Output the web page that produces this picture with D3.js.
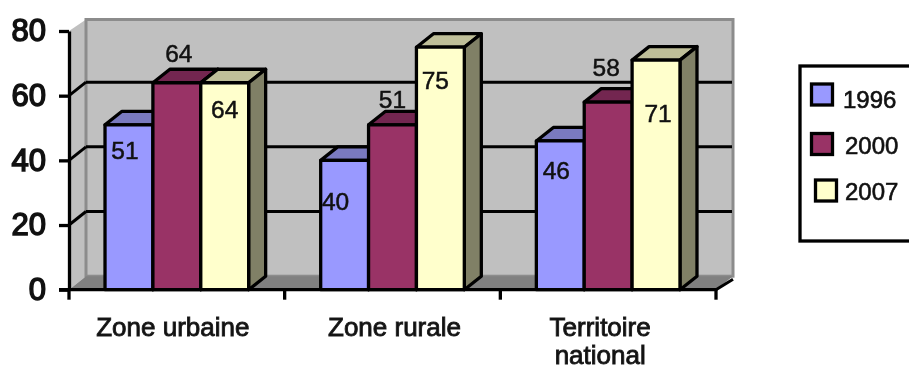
<!DOCTYPE html>
<html>
<head>
<meta charset="utf-8">
<script src="https://cdn.jsdelivr.net/npm/d3@7"></script>
<style>
html,body{margin:0;padding:0;background:#fff;overflow:hidden}
svg{display:block;filter:blur(0.55px)}
text{font-family:"Liberation Sans",Arial,sans-serif;fill:#111}
</style>
</head>
<body>
<svg id="c" width="909" height="369"></svg>
<script>
const categories = [["Zone urbaine"], ["Zone rurale"], ["Territoire", "national"]];
const years = ["1996", "2000", "2007"];
const values1996 = [51, 40, 46];
const values2000 = [64, 51, 58];
const values2007 = [64, 75, 71];
const yTicks = [0, 20, 40, 60, 80];

const seriesValues = [values1996, values2000, values2007];
const frontColors = ["#9999FF", "#993366", "#FFFFCC"];
const topColors = ["#7A7ABF", "#732650", "#BFBF99"];
const sideColors = ["#666699", "#66223F", "#808066"];

// hand-placed data label nudges, [series][category] = [dx, dy] from bar top centre
const labelNudge = [
  [[-4, 25], [-9, 41], [-4, 29]],
  [[2, -30], [0, -26], [-2, -35]],
  [[0, 26], [-5, 33], [2, 53]]
];
const categoryNudge = [-4, 2, -8];

const svg = d3.select("#c");
const depthX = 17, depthY = 13.5;
const y = d3.scaleLinear().domain([0, 80]).range([289.7, 31]);
const x = d3.scaleBand().domain(d3.range(categories.length)).range([69, 716]).paddingInner(0.334).paddingOuter(0.167);
const xs = d3.scaleBand().domain(d3.range(years.length)).range([0, x.bandwidth()]);
const left = x.range()[0], right = x.range()[1];
const poly = d3.line();

// walls
const backTop = y(80) - 11.5, backBottom = y(0) - depthY;
svg.append("path").attr("fill", "#C0C0C0")
  .attr("d", poly([[left, y(80)], [left + depthX, backTop], [left + depthX, backBottom], [left, y(0)]]) + "Z");
svg.append("rect").attr("x", left + depthX).attr("y", backTop)
  .attr("width", right - left).attr("height", backBottom - backTop)
  .attr("fill", "#C0C0C0").attr("stroke", "#8c8c8c").attr("stroke-width", 3);
svg.append("path").attr("fill", "#808080")
  .attr("d", poly([[left, y(0)], [left + depthX, backBottom], [right + depthX, backBottom], [right, y(0)]]) + "Z");

// gridlines and wall connectors
const grid = svg.append("g").attr("fill", "none").attr("stroke", "#000").attr("stroke-width", 3);
yTicks.filter(t => t > 0 && t < 80).forEach(t => {
  grid.append("path").attr("d", poly([[left + depthX, y(t) - depthY], [right + depthX - 1, y(t) - depthY]]));
  grid.append("path").attr("d", poly([[left, y(t)], [left + depthX, y(t) - depthY]]));
});
grid.append("path").attr("d", poly([[right, y(0)], [right + depthX, backBottom + 3]]));

// bars
categories.forEach((c, ci) => {
  years.forEach((yr, si) => {
    const v = seriesValues[si][ci];
    const x0 = x(ci) + xs(si), x1 = x0 + xs.bandwidth(), t = y(v), b = y(0);
    const g = svg.append("g").attr("stroke", "#000").attr("stroke-width", 3.3).attr("stroke-linejoin", "round");
    g.append("path").attr("fill", topColors[si])
      .attr("d", poly([[x0, t], [x0 + depthX, t - depthY], [x1 + depthX, t - depthY], [x1, t]]) + "Z");
    g.append("path").attr("fill", sideColors[si])
      .attr("d", poly([[x1, t], [x1 + depthX, t - depthY], [x1 + depthX, b - depthY], [x1, b]]) + "Z");
    g.append("path").attr("fill", frontColors[si])
      .attr("d", poly([[x0, t], [x1, t], [x1, b], [x0, b]]) + "Z");
  });
});

// value axis
const yAxis = svg.append("g").attr("transform", `translate(${left},0)`)
  .call(d3.axisLeft(y).tickValues(yTicks).tickSize(10).tickSizeOuter(0).tickPadding(13).tickFormat(d3.format("d")));
yAxis.selectAll("path,line").attr("stroke", "#000").attr("stroke-width", 3.3);
yAxis.selectAll("text").attr("font-size", 31).attr("font-family", '"Liberation Sans",Arial,sans-serif')
  .attr("fill", "#111").attr("stroke", "#111").attr("stroke-width", 1.5);

// category axis
const bottom = svg.append("g");
bottom.append("path").attr("stroke", "#000").attr("stroke-width", 3.3).attr("d", poly([[left - 10, y(0)], [right, y(0)]]));
d3.range(categories.length + 1).forEach(i => {
  const tx = i < categories.length ? x.step() * i + left : right;
  bottom.append("path").attr("stroke", "#000").attr("stroke-width", 3.3).attr("d", poly([[tx, y(0)], [tx, y(0) + 10]]));
});
categories.forEach((lines, i) => {
  const cx = x(i) + x.bandwidth() / 2 + categoryNudge[i];
  const label = svg.append("text")
    .attr("y", 336)
    .attr("text-anchor", "middle").attr("font-size", 26)
    .attr("fill", "#1a1a1a").attr("stroke", "#1a1a1a").attr("stroke-width", 0.9);
  lines.forEach((line, li) => {
    label.append("tspan").text(line).attr("x", cx).attr("dy", li === 0 ? 0 : 27.5);
  });
});

// data labels
categories.forEach((c, ci) => {
  years.forEach((yr, si) => {
    const v = seriesValues[si][ci];
    svg.append("text").text(v)
      .attr("x", x(ci) + xs(si) + xs.bandwidth() / 2 + labelNudge[si][ci][0])
      .attr("y", y(v) + labelNudge[si][ci][1])
      .attr("dy", "0.36em").attr("text-anchor", "middle").attr("font-size", 24.5)
      .attr("stroke", "#111").attr("stroke-width", 0.5);
  });
});

// legend
svg.append("rect").attr("x", 800).attr("y", 66).attr("width", 130).attr("height", 175)
  .attr("fill", "#fff").attr("stroke", "#000").attr("stroke-width", 3.3);
const legendRow = d3.scalePoint().domain(years).range([94.5, 190.5]);
const legendNudge = [0, 0, 4];
const legendRowNudge = [0, 1.5, 0];
const legendTextNudge = [0, 2, 2];
const legendTextRowNudge = [5, 2.5, 0.5];
years.forEach((yr, i) => {
  const cy = legendRow(yr);
  svg.append("rect").attr("x", 811.5 + legendNudge[i]).attr("y", cy - 10.5 + legendRowNudge[i]).attr("width", 21).attr("height", 21)
    .attr("fill", frontColors[i]).attr("stroke", "#000").attr("stroke-width", 3.3);
  svg.append("text").text(yr).attr("x", 843 + legendTextNudge[i]).attr("y", cy + legendTextRowNudge[i])
    .attr("dy", "0.36em").attr("font-size", 24)
    .attr("stroke", "#111").attr("stroke-width", 0.6);
});
</script>
</body>
</html>
